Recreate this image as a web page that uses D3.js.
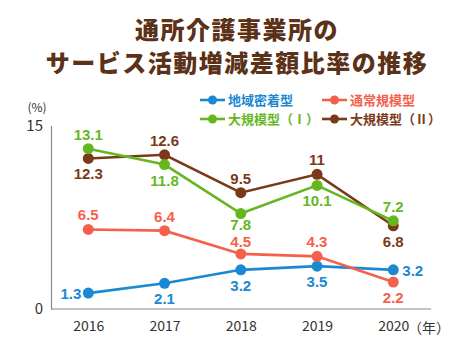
<!DOCTYPE html>
<html><head><meta charset="utf-8">
<script src="https://cdn.jsdelivr.net/npm/d3@7"></script>
<style>
html,body{margin:0;padding:0;background:#fff;}
svg{display:block;}
</style></head>
<body>
<script>
const years = ["2016","2017","2018","2019","2020"];
const seriesNames = ["地域密着型","通常規模型","大規模型（Ⅰ）","大規模型（Ⅱ）"];
const chiiki = [1.3, 2.1, 3.2, 3.5, 3.2];
const tsujo = [6.5, 6.4, 4.5, 4.3, 2.2];
const daiki1 = [13.1, 11.8, 7.8, 10.1, 7.2];
const daiki2 = [12.3, 12.6, 9.5, 11, 6.8];
const labelText = [
  ["1.3","2.1","3.2","3.5","3.2"],
  ["6.5","6.4","4.5","4.3","2.2"],
  ["13.1","11.8","7.8","10.1","7.2"],
  ["12.3","12.6","9.5","11","6.8"]
];
// label placement: a=above, d=above (tight), b=below, c=below (tight), l=left, r=right
const labelPos = [
  ["l","b","b","b","r"],
  ["a","a","d","a","b"],
  ["a","b","c","b","a"],
  ["b","a","a","a","b"]
];
const colors = ["#1a88d2","#f4614b","#66b71f","#7a3a1a"];
const yTicks = [0, 15];
const titleLines = ["通所介護事業所の","サービス活動増減差額比率の推移"];

const W = 474, H = 355;
const svg = d3.select("body").append("svg").attr("width", W).attr("height", H);
const font = "'Noto Sans CJK JP','Noto Sans',sans-serif";
const numFont = "'Liberation Sans',Arial,sans-serif";

// title
svg.selectAll("text.title").data(titleLines).join("text")
  .attr("x", 237).attr("y", (d,i) => 39 + i*33)
  .attr("text-anchor","middle")
  .attr("font-family", font).attr("font-weight", 900)
  .attr("font-size", 24).attr("letter-spacing", 1.5)
  .attr("fill", "#5b3117").text(d => d);

const x = d3.scalePoint().domain(years).range([88.3, 393.3]);
const y = d3.scaleLinear().domain([0, 15]).range([309, 125.4]);

// axes
const gy = svg.append("g").attr("transform","translate(51,0)")
  .call(d3.axisLeft(y).tickValues(yTicks).tickSize(0).tickPadding(8));
gy.select(".domain").attr("stroke","#8a8a8a").attr("stroke-width",1.2);
gy.selectAll("text").attr("font-family", font).attr("font-size", 15).attr("fill","#333");

const gx = svg.append("g").attr("transform","translate(0,309)")
  .call(d3.axisBottom(x).tickSize(0).tickPadding(12));
gx.select(".domain").attr("d","M51,0H431").attr("stroke","#8a8a8a").attr("stroke-width",1.2);
gx.selectAll("text").attr("font-family", font).attr("font-size", 14).attr("fill","#333");

svg.append("text").attr("x", 395).attr("y", 333)
  .attr("font-family", font).attr("font-size", 14).attr("fill","#333")
  .attr("text-anchor","start").text("（年）").attr("dx", 13);
// "(%)"
svg.append("text").attr("x", 37).attr("y", 112).attr("text-anchor","middle")
  .attr("font-family", font).attr("font-size", 12).attr("fill","#333").text("(%)");

const data = [chiiki, tsujo, daiki1, daiki2];
const order = [0, 1, 3, 2];
const line = d3.line().x((d,i) => x(years[i])).y(d => y(d));

order.forEach(s => {
  const g = svg.append("g");
  g.append("path").datum(data[s]).attr("d", line)
    .attr("fill","none").attr("stroke", colors[s]).attr("stroke-width", 2.6);
  g.selectAll("circle").data(data[s]).join("circle")
    .attr("cx", (d,i) => x(years[i])).attr("cy", d => y(d)).attr("r", 5.5)
    .attr("fill", colors[s]);
});

const dyMap = {a: -9, d: -7, b: 21, c: 16, l: 6, r: 6};
data.forEach((arr, s) => {
  svg.append("g").selectAll("text").data(arr).join("text")
    .attr("font-family", numFont).attr("font-weight", 700).attr("font-size", 15)
    .attr("fill", colors[s])
    .attr("x", (d,i) => {
      const p = labelPos[s][i], cx = x(years[i]);
      return p === "l" ? cx - 7 : p === "r" ? cx + 9 : cx;
    })
    .attr("y", (d,i) => y(d) + dyMap[labelPos[s][i]])
    .attr("text-anchor", (d,i) => {
      const p = labelPos[s][i];
      return p === "l" ? "end" : p === "r" ? "start" : "middle";
    })
    .text((d,i) => labelText[s][i]);
});

// legend
const legPos = [[200,100],[322,100],[200,119],[322,119]];
seriesNames.forEach((n, s) => {
  const [lx, ly] = legPos[s];
  const g = svg.append("g");
  g.append("line").attr("x1", lx).attr("x2", lx+25).attr("y1", ly).attr("y2", ly)
    .attr("stroke", colors[s]).attr("stroke-width", 2.6);
  g.append("circle").attr("cx", lx+12.5).attr("cy", ly).attr("r", 4.5).attr("fill", colors[s]);
  g.append("text").attr("x", lx+28).attr("y", ly+5)
    .attr("font-family", font).attr("font-weight", 700).attr("font-size", 13)
    .attr("fill", colors[s]).text(n);
});
</script>
</body></html>
